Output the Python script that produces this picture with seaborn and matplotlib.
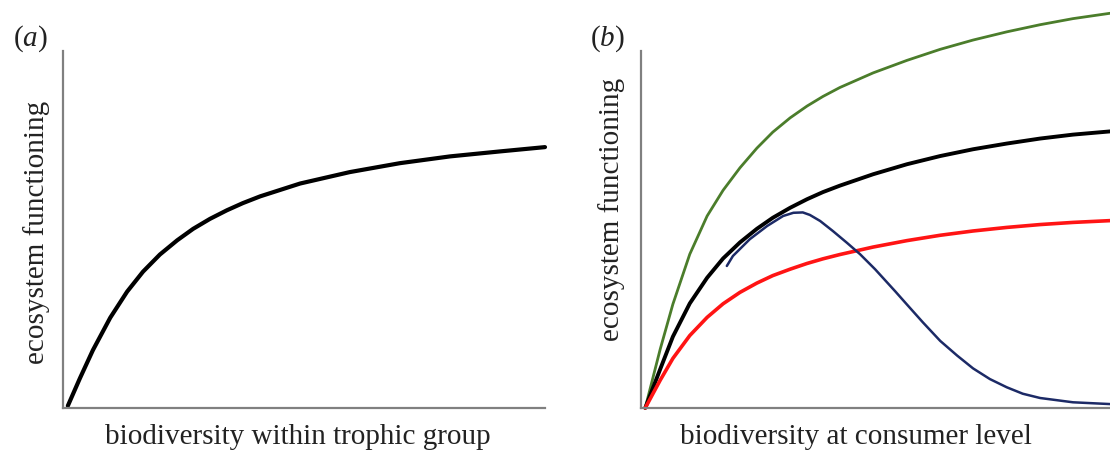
import numpy as np
import pandas as pd
import matplotlib
matplotlib.use("Agg")
import matplotlib.pyplot as plt
import seaborn as sns

# ---------------- data ----------------
# panel (a): biodiversity within trophic group vs ecosystem functioning
a_x = [1.0, 3.5, 6.2, 9.8, 13.3, 16.6, 20.1, 23.7, 27.0, 30.5, 34.0, 37.3,
       40.9, 49.2, 59.5, 69.9, 80.3, 90.7, 100.0]
a_y = [0.6, 8.3, 16.2, 25.3, 32.6, 38.2, 43.0, 47.0, 50.2, 53.0, 55.4, 57.4,
       59.3, 62.9, 66.1, 68.6, 70.5, 71.9, 73.1]

# panel (b): biodiversity at consumer level vs ecosystem functioning
b_x = [0.9, 4.1, 6.8, 10.4, 14.1, 17.5, 21.1, 24.7, 28.1, 31.8, 35.4, 38.8,
       42.4, 49.5, 56.7, 63.8, 70.8, 78.0, 85.1, 92.1, 100.0]
green_y = [0.0, 16.5, 29.1, 43.1, 53.8, 61.0, 67.3, 72.8, 77.3, 81.3, 84.6,
           87.3, 89.8, 93.9, 97.4, 100.5, 103.1, 105.4, 107.4, 109.1, 110.6]
black_y = [0.0, 10.9, 20.0, 29.3, 36.5, 41.9, 46.4, 50.2, 53.3, 56.1, 58.5,
           60.5, 62.3, 65.5, 68.3, 70.6, 72.5, 74.1, 75.5, 76.6, 77.5]
red_y = [0.0, 7.8, 13.9, 20.3, 25.4, 29.2, 32.4, 35.0, 37.1, 38.9, 40.5,
         41.8, 43.0, 45.1, 46.9, 48.4, 49.6, 50.6, 51.4, 52.0, 52.5]
blue_x = [18.3, 19.6, 23.2, 26.9, 30.3, 32.5, 34.5, 36.0, 38.2, 40.9, 43.9,
          46.7, 49.9, 54.2, 56.7, 60.1, 63.8, 67.4, 70.8, 74.4, 78.0, 81.4,
          85.1, 92.1, 100.0]
blue_y = [39.8, 42.6, 47.3, 51.0, 53.8, 54.7, 54.8, 54.1, 52.4, 49.6, 46.3,
          43.1, 38.9, 32.7, 29.0, 24.0, 18.8, 14.7, 11.1, 8.1, 5.8, 4.0,
          2.8, 1.6, 1.1]

panel_labels = ["(a)", "(b)"]
x_labels = ["biodiversity within trophic group", "biodiversity at consumer level"]
y_label = "ecosystem functioning"

# ---------------- style ----------------
sns.set_theme(style="white")
plt.rcParams["font.family"] = ["Liberation Serif", "DejaVu Serif"]
plt.rcParams["mathtext.fontset"] = "custom"
plt.rcParams["mathtext.rm"] = "Liberation Serif"
plt.rcParams["mathtext.it"] = "Liberation Serif:italic"

TXT = "#222222"
SPINE = "#808080"
FS = 21

W, H = 1110, 452
fig = plt.figure(figsize=(W / 100, H / 100), dpi=100)

def px_axes(l, r, t, b):
    return fig.add_axes([l / W, 1 - b / H, (r - l) / W, (b - t) / H])

ax_a = px_axes(63, 545, 5, 409)
ax_b = px_axes(641, 1110, 5, 409)

df_a = pd.DataFrame({"x": a_x, "y": a_y})
sns.lineplot(data=df_a, x="x", y="y", ax=ax_a, color="black", lw=3.0,
             sort=False, clip_on=False)

df_g = pd.DataFrame({"x": b_x, "y": green_y})
df_k = pd.DataFrame({"x": b_x, "y": black_y})
df_r = pd.DataFrame({"x": b_x, "y": red_y})
df_bl = pd.DataFrame({"x": blue_x, "y": blue_y})
sns.lineplot(data=df_g, x="x", y="y", ax=ax_b, color="#4b7d2b", lw=2.0, sort=False, clip_on=False)
sns.lineplot(data=df_k, x="x", y="y", ax=ax_b, color="black", lw=2.8, sort=False, clip_on=False)
sns.lineplot(data=df_r, x="x", y="y", ax=ax_b, color="#ff1414", lw=2.6, sort=False, clip_on=False)
sns.lineplot(data=df_bl, x="x", y="y", ax=ax_b, color="#1c2a66", lw=1.8, sort=False, clip_on=False)

for ax in (ax_a, ax_b):
    for ln in ax.get_lines():
        ln.set_solid_joinstyle("round")
        ln.set_solid_capstyle("round")

ylim_top = 113.2
for ax, xl, xlx, yly, ylx in [
        (ax_a, x_labels[0], 0.488, 0.436, -0.054),
        (ax_b, x_labels[1], 0.458, 0.493, -0.062)]:
    ax.set_xlim(0, 100)
    ax.set_ylim(0, ylim_top)
    ax.set_xticks([])
    ax.set_yticks([])
    for s in ["top", "right"]:
        ax.spines[s].set_visible(False)
    for s in ["left", "bottom"]:
        ax.spines[s].set_color(SPINE)
        ax.spines[s].set_linewidth(1.6)
    ax.spines["left"].set_bounds(0, 100)
    ax.set_facecolor("none")
    ax.set_xlabel(xl, fontsize=FS, color=TXT)
    ax.set_ylabel(y_label, fontsize=FS, color=TXT)
    ax.xaxis.label.set_va("center")
    ax.yaxis.label.set_va("center")
    ax.xaxis.set_label_coords(xlx, -0.069)
    ax.yaxis.set_label_coords(ylx, yly)

fig.text(30 / W, 1 - 39 / H, "$" + panel_labels[0] + "$", fontsize=FS, color=TXT,
         ha="center", va="center")
fig.text(607 / W, 1 - 39 / H, "$" + panel_labels[1] + "$", fontsize=FS, color=TXT,
         ha="center", va="center")

fig.savefig("out.png", dpi=100, facecolor="white")
